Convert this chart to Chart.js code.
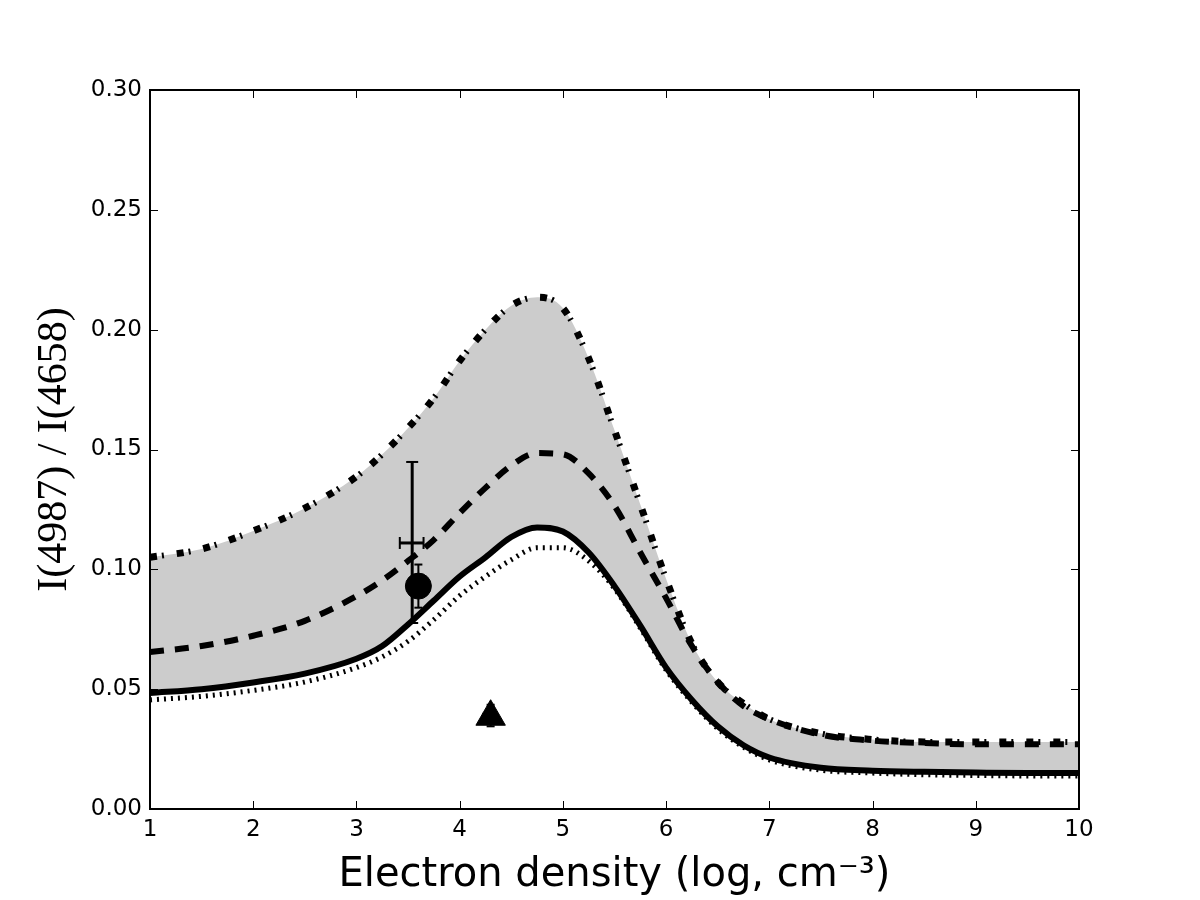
<!DOCTYPE html>
<html>
<head>
<meta charset="utf-8">
<script src="https://cdn.jsdelivr.net/npm/chart.js@4.4.1/dist/chart.umd.min.js"></script>
<style>
body { margin: 0; background: #fff; }
#wrap { width: 1200px; height: 900px; }
</style>
</head>
<body>
<div id="wrap"><canvas id="densityChart" width="1200" height="900"></canvas></div>
<script>
// log electron density grid (cm^-3)
var density = [1, 1.5, 2, 2.5, 3, 3.25, 3.5, 3.75, 4, 4.25, 4.5, 4.75, 5, 5.25, 5.5, 5.75, 6, 6.25, 6.5, 6.75, 7, 7.5, 8, 8.5, 9, 9.5, 10];

// I(4987)/I(4658) model curves
var ratioSolid   = [0.0484, 0.050, 0.0528, 0.0565, 0.0627, 0.068, 0.077, 0.087, 0.097, 0.105, 0.1135, 0.1175, 0.1158, 0.107, 0.093, 0.0765, 0.059, 0.0455, 0.0345, 0.0266, 0.0215, 0.0172, 0.016, 0.0155, 0.0152, 0.015, 0.015];
var ratioThinDot = [0.0455, 0.047, 0.0495, 0.053, 0.059, 0.0635, 0.070, 0.079, 0.089, 0.097, 0.104, 0.109, 0.109, 0.1035, 0.092, 0.0755, 0.058, 0.0445, 0.0335, 0.0258, 0.0205, 0.0162, 0.015, 0.0143, 0.014, 0.0138, 0.0138];
var ratioDashed  = [0.0655, 0.068, 0.0723, 0.0785, 0.0888, 0.0954, 0.1035, 0.1123, 0.1235, 0.134, 0.1433, 0.1485, 0.148, 0.140, 0.1265, 0.107, 0.088, 0.068, 0.053, 0.043, 0.0375, 0.031, 0.0285, 0.0275, 0.027, 0.027, 0.027];
var ratioUpper   = [0.105, 0.1085, 0.116, 0.1255, 0.1387, 0.148, 0.159, 0.1715, 0.187, 0.200, 0.210, 0.2135, 0.209, 0.188, 0.158, 0.127, 0.096, 0.069, 0.053, 0.044, 0.0375, 0.0315, 0.029, 0.028, 0.028, 0.028, 0.028];

// observed points: [cross, circle, triangle]
var obsX   = [3.54, 3.60, 4.30];
var obsY   = [0.111, 0.093, 0.0385];
var obsXLo = [3.42, 3.60, 4.23];
var obsXHi = [3.65, 3.60, 4.36];
var obsYLo = [0.0776, 0.084, 0.0345];
var obsYHi = [0.1448, 0.102, 0.0435];

var xTicks = [1, 2, 3, 4, 5, 6, 7, 8, 9, 10];

function curve(values) {
    return density.map(function(d, i) { return {x: d, y: values[i]}; });
}

function vBar(i, width, cap) {
    return {
        data: [{x: obsX[i], y: obsYLo[i]}, {x: obsX[i], y: obsYHi[i]}],
        showLine: true,
        borderColor: '#000',
        borderWidth: width,
        pointStyle: 'line',
        pointRadius: cap,
        pointBorderWidth: 2,
        pointBorderColor: '#000',
        fill: false
    };
}

function hBar(i, width, cap) {
    return {
        data: [{x: obsXLo[i], y: obsY[i]}, {x: obsXHi[i], y: obsY[i]}],
        showLine: true,
        borderColor: '#000',
        borderWidth: width,
        pointStyle: 'line',
        pointRotation: 90,
        pointRadius: cap,
        pointBorderWidth: 2,
        pointBorderColor: '#000',
        fill: false
    };
}

function modelLine(values, width, dash, offset) {
    return {
        data: curve(values),
        showLine: true,
        borderColor: '#000',
        borderWidth: width,
        borderDash: dash,
        borderDashOffset: offset || 0,
        pointRadius: 0,
        cubicInterpolationMode: 'monotone',
        fill: false
    };
}

// inward ticks on all four sides plus the box
var frameTicks = {
    id: 'frameTicks',
    afterDraw: function(chart) {
        var c = chart.ctx, a = chart.chartArea;
        var xs = chart.scales.x, ys = chart.scales.y;
        c.save();
        c.strokeStyle = '#000';
        c.lineWidth = 1;
        c.beginPath();
        xs.ticks.forEach(function(t) {
            var px = Math.round(xs.getPixelForValue(t.value)) + 0.5;
            c.moveTo(px, a.bottom); c.lineTo(px, a.bottom - 8);
            c.moveTo(px, a.top); c.lineTo(px, a.top + 8);
        });
        ys.ticks.forEach(function(t) {
            var py = Math.round(ys.getPixelForValue(t.value)) + 0.5;
            c.moveTo(a.left, py); c.lineTo(a.left + 8, py);
            c.moveTo(a.right, py); c.lineTo(a.right - 8, py);
        });
        c.stroke();
        c.lineWidth = 2;
        c.strokeRect(a.left, a.top, a.right - a.left, a.bottom - a.top);
        c.restore();
    }
};

var ctx = document.getElementById('densityChart').getContext('2d');
var densityChart = new Chart(ctx, {
    type: 'scatter',
    data: {
        datasets: [
            vBar(0, 3, 6),
            hBar(0, 3, 6),
            vBar(1, 2, 4),
            {
                data: [{x: obsX[1], y: obsY[1]}],
                pointStyle: 'circle',
                pointRadius: 13,
                backgroundColor: '#000',
                borderColor: '#000'
            },
            vBar(2, 2, 4),
            hBar(2, 2, 4),
            {
                data: [{x: obsX[2], y: obsY[2]}],
                pointStyle: 'triangle',
                pointRadius: 17,
                backgroundColor: '#000',
                borderColor: '#000'
            },
            modelLine(ratioSolid, 6, []),                      // 7
            modelLine(ratioDashed, 6, [14, 11]),               // 8
            Object.assign(modelLine(ratioUpper, 7, [7, 20]), { // 9
                fill: {target: 7, above: '#cccccc', below: '#cccccc'},
                backgroundColor: '#cccccc'
            }),
            modelLine(ratioUpper, 6, [2, 25], -12),            // 10
            modelLine(ratioThinDot, 5, [2, 5])                 // 11
        ]
    },
    options: {
        responsive: false,
        animation: false,
        layout: { padding: { top: 90, right: 121, left: 0, bottom: 0 } },
        plugins: {
            legend: { display: false },
            tooltip: { enabled: false },
            filler: { drawTime: 'beforeDatasetsDraw' }
        },
        scales: {
            x: {
                type: 'linear',
                min: 1,
                max: 10,
                afterBuildTicks: function(scale) {
                    scale.ticks = xTicks.map(function(v) { return {value: v}; });
                },
                grid: { display: false, drawTicks: false },
                border: { display: false },
                ticks: {
                    color: '#000',
                    padding: 7,
                    font: { family: 'DejaVu Sans', size: 23 },
                    callback: function(v) { return String(v); }
                },
                title: {
                    display: true,
                    text: 'Electron density (log, cm\u207B\u00B3)',
                    color: '#000',
                    font: { family: 'DejaVu Sans', size: 40 },
                    padding: { top: 0, bottom: 0 }
                },
                afterFit: function(scale) { scale.height = 91; }
            },
            y: {
                min: 0,
                max: 0.3,
                grid: { display: false, drawTicks: false },
                border: { display: false },
                ticks: {
                    stepSize: 0.05,
                    color: '#000',
                    padding: 8,
                    font: { family: 'DejaVu Sans', size: 23 },
                    callback: function(v) { return v.toFixed(2); }
                },
                title: {
                    display: true,
                    text: 'I(4987) / I(4658)',
                    color: '#000',
                    font: { family: 'Liberation Serif', size: 42 },
                    padding: { top: 30, bottom: 0 }
                },
                afterFit: function(scale) { scale.width = 150; }
            }
        }
    },
    plugins: [frameTicks]
});
</script>
</body>
</html>
